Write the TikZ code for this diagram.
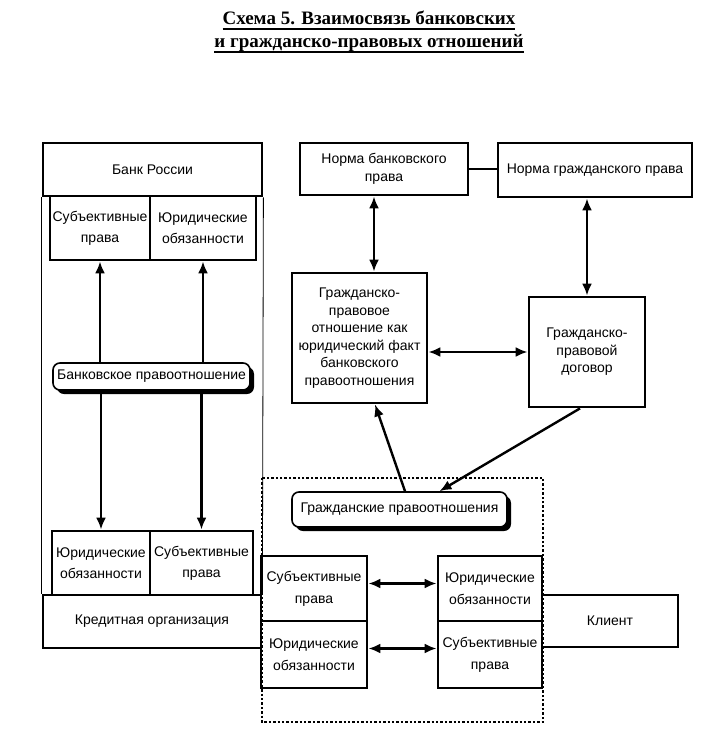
\documentclass[tikz,border=0pt]{standalone}
\usepackage{fontspec}
\setmainfont{Liberation Sans}
\newfontfamily\titlefont{Liberation Serif}
\newcommand{\thul}[1]{\setbox0\hbox{#1}\rlap{\rule[-5pt]{\wd0}{1.6pt}}\box0}
\usetikzlibrary{arrows.meta,shadows}

\tikzset{
  box/.style={draw,line width=2.8pt,align=center,inner sep=1pt,font=\fontsize{14}{18}\selectfont},
  relbox/.style={draw,line width=1.6pt,rounded corners=7pt,fill=white,inner sep=0pt,
    drop shadow={shadow xshift=4pt,shadow yshift=-4pt,fill=black,opacity=1},font=\fontsize{14}{18}\selectfont},
  link/.style={line width=2.4pt},
}

\begin{document}
\begin{tikzpicture}[x=1pt,y=-1pt,>={Latex[length=12pt,width=10pt]}]
\useasboundingbox (0,0) rectangle (707,748);
\node[align=center,font=\titlefont\bfseries\fontsize{19}{23}\selectfont] (title) at (369,32) {\thul{Схема 5. Взаимосвязь банковских}\\\thul{и гражданско-правовых отношений}};
\node[box,minimum width=219pt,minimum height=53pt] (bankR) at (152.5,169.5) {Банк России};
\node[box,minimum width=100pt,minimum height=64pt,font=\fontsize{14}{21}\selectfont] (subA) at (100,228) {Субъективные\\права};
\node[box,minimum width=106pt,minimum height=64pt,font=\fontsize{14}{21}\selectfont] (objA) at (203,228) {Юридические\\обязанности};
\node[relbox,minimum width=197pt,minimum height=27pt] (bankrel) at (151.5,376.5) {Банковское правоотношение};
\node[box,minimum width=98pt,minimum height=64pt,font=\fontsize{14}{21}\selectfont] (objB) at (101,563) {Юридические\\обязанности};
\node[box,minimum width=103pt,minimum height=64pt,font=\fontsize{14}{21}\selectfont] (subB) at (201.5,563) {Субъективные\\права};
\node[box,minimum width=218pt,minimum height=53pt] (credit) at (152,621.5) {Кредитная организация};
\draw[line width=0.8pt] (bankR.south west) -- (credit.north west);
\draw[line width=0.8pt] (bankR.south east) -- (credit.north east);
\node[box,minimum width=168pt,minimum height=52pt] (normB) at (384,169) {Норма банковского\\права};
\node[box,minimum width=194pt,minimum height=54pt] (normC) at (595,170) {Норма гражданского права};
\node[box,minimum width=135pt,minimum height=130pt,font=\fontsize{14}{17.5}\selectfont] (civrel) at (359.5,338) {Гражданско-\\правовое\\отношение как\\юридический факт\\банковского\\правоотношения};
\node[box,minimum width=116pt,minimum height=110pt,font=\fontsize{14}{17.5}\selectfont] (contract) at (587,352) {Гражданско-\\правовой\\договор};
\draw[line width=2.4pt,dotted] (262,478) rectangle (543,722);
\node[relbox,minimum width=215pt,minimum height=35pt] (civ) at (399.5,509.5) {Гражданские правоотношения};
\node[box,minimum width=106pt,minimum height=65pt,font=\fontsize{14}{22}\selectfont] (subC) at (314,588.5) {Субъективные\\права};
\node[box,minimum width=106pt,minimum height=67pt,font=\fontsize{14}{22}\selectfont] (objC) at (314,654.5) {Юридические\\обязанности};
\node[box,minimum width=104pt,minimum height=65pt,font=\fontsize{14}{22}\selectfont] (objD) at (490,588.5) {Юридические\\обязанности};
\node[box,minimum width=104pt,minimum height=67pt,font=\fontsize{14}{22}\selectfont] (subD) at (490,654.5) {Субъективные\\права};
\node[box,minimum width=136pt,minimum height=52pt] (client) at (610,621) {Клиент};
\foreach \nd in {subA,objA} \draw[link,->] (bankrel.north -| \nd.south) -- (\nd.south);
\foreach \nd in {objB,subB} \draw[link,->] (bankrel.south -| \nd.north) -- (\nd.north);
\draw[link] (normB.east) -- (normB.east -| normC.west);
\draw[link,<->] ([xshift=-10pt]normB.south) -- ([xshift=14.5pt]civrel.north);
\draw[link,<->] (contract.north |- normC.south) -- (contract.north);
\draw[link,<->] (contract.west -| civrel.east) -- (contract.west);
\draw[link,->] ([xshift=5.5pt]civ.north) -- ([xshift=15.5pt]civrel.south);
\draw[link,->] ([xshift=-7pt]contract.south) -- ([xshift=40pt]civ.north);
\draw[link,<->] ([yshift=5pt]subC.east) -- ([yshift=5pt]objD.west);
\draw[link,<->] ([yshift=6pt]objC.east) -- ([yshift=6pt]subD.west);
\end{tikzpicture}
\end{document}
